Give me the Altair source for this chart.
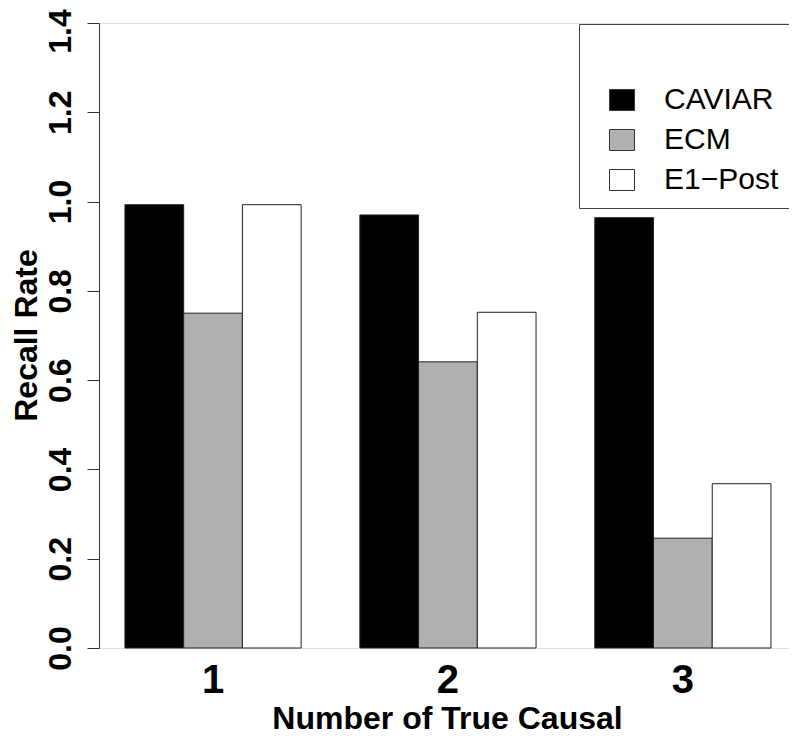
import altair as alt
import pandas as pd

groups = ["1", "2", "3"]
methods = ["CAVIAR", "ECM", "E1\u2212Post"]
caviar = [0.993, 0.970, 0.964]
ecm = [0.750, 0.641, 0.246]
e1post = [0.993, 0.752, 0.368]
colors = ["#000000", "#B0B0B0", "#FFFFFF"]
y_ticks = [0.0, 0.2, 0.4, 0.6, 0.8, 1.0, 1.2, 1.4]

rows = []
for m, vals in zip(methods, [caviar, ecm, e1post]):
    for g, v in zip(groups, vals):
        rows.append({"group": g, "method": m, "value": v})
df = pd.DataFrame(rows)

FONT = "Liberation Sans"

chart = alt.Chart(df).mark_bar(stroke="#222222", strokeWidth=1).encode(
    x=alt.X("group:N", sort=groups,
            scale=alt.Scale(paddingInner=0.25, paddingOuter=0.0936, align=0.59),
            axis=alt.Axis(title="Number of True Causal", labelAngle=0,
                          domain=False, ticks=False,
                          labelFont=FONT, labelFontSize=40, labelFontWeight="bold",
                          labelColor="#000", labelBaseline="alphabetic", labelPadding=44,
                          titleFont=FONT, titleFontSize=32, titleFontWeight="bold",
                          titleColor="#000", titleBaseline="alphabetic", titleY=80,
                          titleX=348)),
    xOffset=alt.XOffset("method:N", sort=methods,
                        scale=alt.Scale(paddingInner=0, paddingOuter=0)),
    y=alt.Y("value:Q",
            scale=alt.Scale(domain=[0, 1.4], nice=False, zero=True),
            axis=alt.Axis(title="Recall Rate", values=y_ticks, format=".1f",
                          grid=False, domainColor="#333", tickColor="#333",
                          tickSize=12, labelAngle=270, labelAlign="center",
                          labelBaseline="alphabetic", labelPadding=17,
                          labelOffset={"condition": {"test": "datum.value > 1.35", "value": 8}, "value": 0},
                          labelFont=FONT, labelFontSize=32, labelFontWeight="bold",
                          labelColor="#000",
                          titleFont=FONT, titleFontSize=32, titleFontWeight="bold",
                          titleColor="#000", titleAngle=270, titleBaseline="alphabetic",
                          titleX=-63, titleY=312, titleAlign="center")),
    fill=alt.Fill("method:N", sort=methods,
                  scale=alt.Scale(domain=methods, range=colors),
                  legend=alt.Legend(title=" ", orient="none", legendX=480, legendY=1,
                                    titleFontSize=30, titlePadding=18,
                                    fillColor="white", strokeColor="#444",
                                    padding=13, symbolOffset=15,
                                    symbolType="M-1.19,-1H1.19V1H-1.19Z", symbolSize=441,
                                    symbolStrokeColor="#333", symbolStrokeWidth=1,
                                    labelFont=FONT, labelFontSize=30, labelColor="#000",
                                    labelOffset=27, rowPadding=10)),
).properties(
    width=690, height=625,
    autosize=alt.AutoSizeParams(type="none"),
    padding={"left": 91, "top": 15, "right": 0, "bottom": 86},
).configure_view(stroke=None).configure(background="white")

chart.save("out.html", embed_options={"renderer": "svg", "actions": False})
